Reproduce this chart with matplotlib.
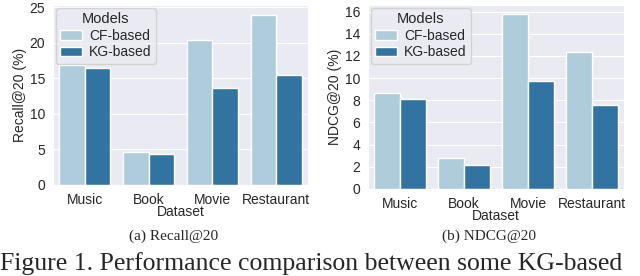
import matplotlib
matplotlib.use("Agg")
import matplotlib.pyplot as plt
import seaborn as sns
import pandas as pd

# данные
datasets = ["Music", "Book", "Movie", "Restaurant"]
models = ["CF-based", "KG-based"]
recall_cf = [16.8, 4.6, 20.4, 23.9]
recall_kg = [16.5, 4.3, 13.7, 15.5]
ndcg_cf = [8.7, 2.8, 15.8, 12.4]
ndcg_kg = [8.1, 2.2, 9.7, 7.6]

sns.set_style("darkgrid")
plt.rcParams['font.family'] = ['Liberation Sans', 'DejaVu Sans']
plt.rcParams['font.size'] = 10

def make_df(cf, kg):
    rows = []
    for d, a, b in zip(datasets, cf, kg):
        rows.append({"Dataset": d, "Models": models[0], "value": a})
        rows.append({"Dataset": d, "Models": models[1], "value": b})
    return pd.DataFrame(rows)

palette = sns.color_palette("Paired", 2)

fig = plt.figure(figsize=(6.4, 2.76), dpi=100)
ax1 = fig.add_axes([53/640, 91/276, 255/640, 180/276])
ax2 = fig.add_axes([368/640, 87/276, 256/640, 184/276])

for ax, cf, kg, ylab, top, ticks in [
        (ax1, recall_cf, recall_kg, "Recall@20 (%)", 25.3, [0, 5, 10, 15, 20, 25]),
        (ax2, ndcg_cf, ndcg_kg, "NDCG@20 (%)", 16.6, [0, 2, 4, 6, 8, 10, 12, 14, 16])]:
    df = make_df(cf, kg)
    sns.barplot(data=df, x="Dataset", y="value", hue="Models", palette=palette,
                ax=ax, errorbar=None)
    ax.set_ylim(0, top)
    ax.set_xlim(-0.5, 3.5)
    ax.set_yticks(ticks)
    ax.set_ylabel(ylab, fontsize=10, labelpad=2)
    ax.set_xlabel("Dataset", fontsize=10, labelpad=-1)
    ax.tick_params(labelsize=10, pad=2)
    ax.legend(title="Models", loc="upper left", fontsize=10, title_fontsize=10.5,
              borderaxespad=0.2, handlelength=1.6, handletextpad=0.5,
              labelspacing=0.2, borderpad=0.3)

serif = ['Liberation Serif', 'DejaVu Serif']
fig.text(174/640, 1 - 236/276, "(a) Recall@20", family=serif, fontsize=11,
         ha="center", va="center")
fig.text(489/640, 1 - 236/276, "(b) NDCG@20", family=serif, fontsize=11,
         ha="center", va="center")
fig.text(0.0, 1 - 270/276, "Figure 1. Performance comparison between some KG-based",
         family=serif, fontsize=18.5, ha="left", va="baseline")

fig.savefig("out.png", dpi=100)
